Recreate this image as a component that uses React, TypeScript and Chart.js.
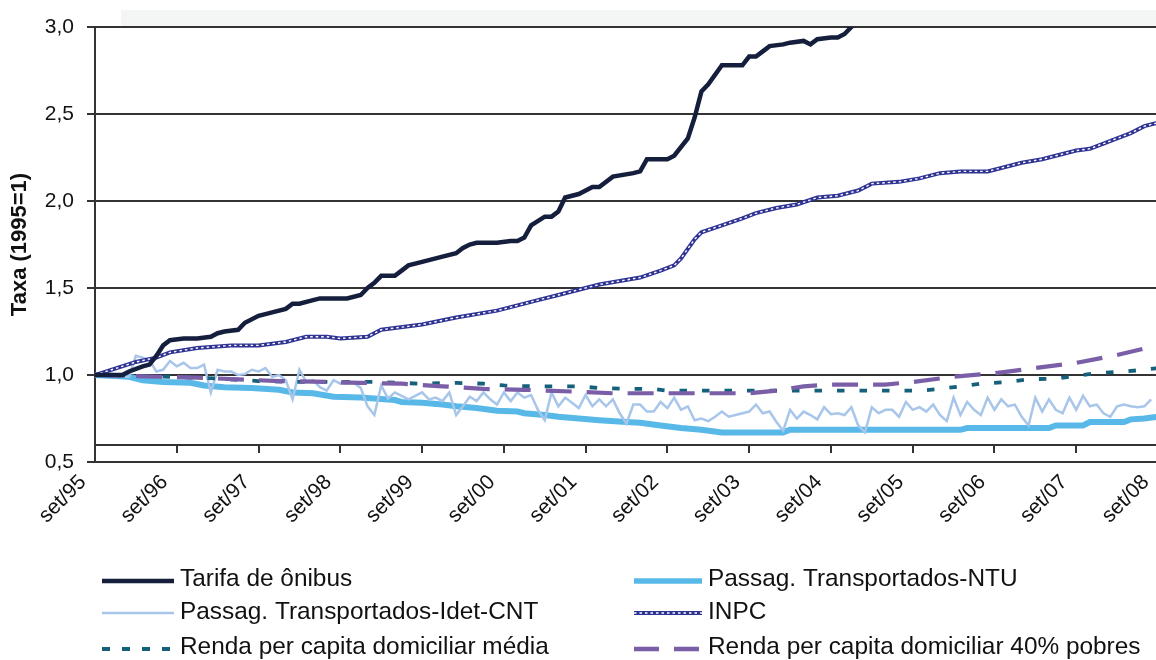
import React, { useEffect, useRef } from 'react';
import { Chart, registerables } from 'chart.js';

Chart.register(...registerables);

// Month index 0 = set/95, 12 = set/96, ... 156 = set/08
const xTickMonths = [0, 12, 24, 36, 48, 60, 72, 84, 96, 108, 120, 132, 144, 156];
const xTickLabels = ['set/95', 'set/96', 'set/97', 'set/98', 'set/99', 'set/00', 'set/01', 'set/02', 'set/03', 'set/04', 'set/05', 'set/06', 'set/07', 'set/08'];
const yTicks = [0.5, 1.0, 1.5, 2.0, 2.5, 3.0];

const tarifaMonths = [0, 4, 5, 7, 8, 9, 10, 11, 13, 15, 17, 18, 19, 21, 22, 24, 25, 26, 28, 29, 30, 32, 33, 37, 39, 40, 41, 42, 44, 45, 46, 48, 51, 53, 54, 55, 56, 59, 61, 62, 63, 64, 66, 67, 68, 69, 71, 73, 74, 76, 79, 80, 81, 84, 85, 87, 88, 89, 90, 92, 95, 96, 97, 98, 99, 101, 102, 104, 105, 106, 108, 109, 110, 111, 112];
const tarifaValues = [1.0, 1.0, 1.02, 1.05, 1.06, 1.11, 1.17, 1.2, 1.21, 1.21, 1.22, 1.24, 1.25, 1.26, 1.3, 1.34, 1.35, 1.36, 1.38, 1.41, 1.41, 1.43, 1.44, 1.44, 1.46, 1.5, 1.53, 1.57, 1.57, 1.6, 1.63, 1.65, 1.68, 1.7, 1.73, 1.75, 1.76, 1.76, 1.77, 1.77, 1.79, 1.86, 1.91, 1.91, 1.94, 2.02, 2.04, 2.08, 2.08, 2.14, 2.16, 2.17, 2.24, 2.24, 2.26, 2.36, 2.48, 2.63, 2.67, 2.78, 2.78, 2.83, 2.83, 2.86, 2.89, 2.9, 2.91, 2.92, 2.9, 2.93, 2.94, 2.94, 2.96, 3.0, 3.03];

const ntuMonths = [0, 5, 7, 10, 14, 16, 19, 23, 27, 29, 32, 35, 39, 44, 45, 48, 51, 53, 56, 59, 62, 63, 66, 68, 71, 74, 78, 80, 83, 86, 89, 92, 101, 102, 127, 128, 140, 141, 145, 146, 151, 152, 154, 156];
const ntuValues = [1.0, 0.99, 0.97, 0.96, 0.955, 0.94, 0.93, 0.925, 0.915, 0.9, 0.895, 0.875, 0.87, 0.856, 0.845, 0.84, 0.83, 0.82, 0.81, 0.795, 0.79, 0.78, 0.77, 0.76, 0.75, 0.74, 0.73, 0.725, 0.71, 0.695, 0.685, 0.67, 0.67, 0.685, 0.685, 0.695, 0.695, 0.71, 0.71, 0.73, 0.73, 0.745, 0.75, 0.76];

// monthly, index 0..155
const idetValues = [
  1.0, 1.0, 1.0, 0.99, 0.99, 0.99, 1.11, 1.1, 1.085, 1.02,
  1.03, 1.08, 1.05, 1.07, 1.04, 1.04, 1.06, 0.9, 1.03, 1.02,
  1.02, 1.0, 1.005, 1.03, 1.02, 1.04, 0.99, 1.0, 0.97, 0.86,
  1.03, 0.96, 0.97, 0.93, 0.91, 0.97, 0.95, 0.95, 0.955, 0.925,
  0.82, 0.77, 0.94, 0.865, 0.9, 0.88, 0.86, 0.88, 0.9, 0.86,
  0.87, 0.85, 0.9, 0.77, 0.82, 0.875, 0.85, 0.9, 0.86, 0.83,
  0.9, 0.85, 0.9, 0.87, 0.885, 0.8, 0.74, 0.9, 0.82, 0.87,
  0.84, 0.81, 0.885, 0.82, 0.86, 0.82, 0.86, 0.78, 0.72, 0.83,
  0.83, 0.79, 0.79, 0.845, 0.81, 0.87, 0.8, 0.82, 0.74, 0.75,
  0.735, 0.76, 0.79, 0.76, 0.77, 0.78, 0.79, 0.83, 0.78, 0.79,
  0.73, 0.68, 0.8, 0.75, 0.79, 0.77, 0.745, 0.815, 0.775, 0.78,
  0.77, 0.815, 0.71, 0.67, 0.815, 0.78, 0.8, 0.8, 0.76, 0.845,
  0.8, 0.815, 0.79, 0.83, 0.77, 0.735, 0.87, 0.77, 0.845, 0.8,
  0.77, 0.87, 0.8, 0.86, 0.82, 0.83, 0.76, 0.71, 0.87, 0.79,
  0.86, 0.8, 0.78, 0.87, 0.8, 0.88, 0.82, 0.83, 0.78, 0.76,
  0.82, 0.83, 0.82, 0.815, 0.82, 0.86
];

const inpcMonths = [0, 6, 9, 11, 15, 20, 24, 28, 31, 34, 36, 40, 42, 48, 53, 59, 65, 68, 71, 74, 77, 80, 83, 85, 86, 88, 89, 92, 95, 97, 100, 103, 106, 109, 112, 114, 118, 121, 124, 127, 131, 133, 135, 136, 139, 141, 144, 146, 148, 150, 152, 154, 156];
const inpcValues = [1.0, 1.075, 1.1, 1.13, 1.155, 1.17, 1.17, 1.19, 1.22, 1.22, 1.21, 1.22, 1.26, 1.29, 1.33, 1.37, 1.43, 1.46, 1.49, 1.52, 1.54, 1.56, 1.6, 1.63, 1.67, 1.78, 1.82, 1.86, 1.9, 1.93, 1.96, 1.98, 2.02, 2.03, 2.06, 2.1, 2.11, 2.13, 2.16, 2.17, 2.17, 2.19, 2.21, 2.22, 2.24, 2.26, 2.29, 2.3, 2.33, 2.36, 2.39, 2.43, 2.45];

const rendaMediaMonths = [0, 11, 18, 24, 31, 41, 48, 53, 57, 60, 64, 71, 74, 78, 82, 84, 121, 124, 127, 130, 134, 137, 141, 144, 147, 151, 154, 156];
const rendaMediaValues = [1.0, 0.99, 0.98, 0.965, 0.96, 0.96, 0.95, 0.955, 0.95, 0.94, 0.935, 0.935, 0.925, 0.92, 0.92, 0.91, 0.91, 0.92, 0.935, 0.95, 0.96, 0.975, 0.98, 0.995, 1.01, 1.02, 1.03, 1.04];

const renda40Months = [0, 9, 15, 21, 27, 34, 39, 45, 51, 57, 63, 70, 76, 96, 100, 104, 108, 112, 116, 120, 126, 132, 138, 144, 150, 156];
const renda40Values = [1.0, 0.99, 0.985, 0.975, 0.965, 0.96, 0.955, 0.95, 0.935, 0.92, 0.915, 0.905, 0.895, 0.895, 0.91, 0.935, 0.945, 0.945, 0.945, 0.96, 0.99, 1.01, 1.04, 1.07, 1.115, 1.17];

const FONT = '"Liberation Sans", Arial, "DejaVu Sans", sans-serif';

const C_TARIFA = '#151f3d';
const C_NTU = '#58b8e8';
const C_IDET = '#a8c5ea';
const C_INPC = '#2f3393';
const C_RMED = '#15607b';
const C_R40 = '#7a5ea8';

const DASH_RMED = [7.5, 15];
const DASH_R40 = [26, 15];

function pts(months: number[], values: number[]) {
  return months.map((m, i) => ({ x: m, y: values[i] }));
}

const legendItems = [
  { label: 'Tarifa de ônibus', color: C_TARIFA, width: 4.5, dash: [] as number[], col: 0, row: 0 },
  { label: 'Passag. Transportados-NTU', color: C_NTU, width: 5.5, dash: [] as number[], col: 1, row: 0 },
  { label: 'Passag. Transportados-Idet-CNT', color: C_IDET, width: 2.5, dash: [] as number[], col: 0, row: 1 },
  { label: 'INPC', color: C_INPC, width: 4, dash: [] as number[], col: 1, row: 1, dotted: true },
  { label: 'Renda per capita domiciliar média', color: C_RMED, width: 4, dash: [8, 12], col: 0, row: 2 },
  { label: 'Renda per capita domiciliar 40% pobres', color: C_R40, width: 4.5, dash: [25, 15], col: 1, row: 2 },
];

export default function App() {
  const canvasRef = useRef<HTMLCanvasElement | null>(null);

  useEffect(() => {
    const canvas = canvasRef.current;
    if (!canvas) return;

    const INPC_INDEX = 3;

    const bandPlugin = {
      id: 'band',
      beforeDraw(chart: any) {
        const { ctx, chartArea } = chart;
        ctx.save();
        ctx.fillStyle = '#f4f5f5';
        ctx.fillRect(chartArea.left + 26, chartArea.top - 17, chartArea.right - chartArea.left - 26, 17);
        ctx.restore();
      },
      beforeDatasetsDraw(chart: any) {
        const { ctx, chartArea, scales } = chart;
        const y06 = Math.round(scales.y.getPixelForValue(0.6));
        ctx.save();
        ctx.strokeStyle = '#333333';
        ctx.lineWidth = 2;
        ctx.beginPath();
        ctx.moveTo(chartArea.left, y06);
        ctx.lineTo(chartArea.right, y06);
        xTickMonths.forEach((m) => {
          if (m === 0) return;
          const x = Math.round(scales.x.getPixelForValue(m));
          ctx.moveTo(x, y06);
          ctx.lineTo(x, y06 + 8);
        });
        ctx.stroke();
        ctx.restore();
      },
      afterDatasetDraw(chart: any, args: any) {
        if (args.index !== INPC_INDEX) return;
        const { ctx, chartArea } = chart;
        const pts = args.meta.data;
        ctx.save();
        ctx.beginPath();
        ctx.rect(chartArea.left, chartArea.top, chartArea.right - chartArea.left, chartArea.bottom - chartArea.top);
        ctx.clip();
        ctx.beginPath();
        pts.forEach((p: any, i: number) => {
          if (i === 0) ctx.moveTo(p.x, p.y);
          else ctx.lineTo(p.x, p.y);
        });
        ctx.strokeStyle = '#ffffff';
        ctx.lineWidth = 1.4;
        ctx.setLineDash([2.5, 3]);
        ctx.stroke();
        ctx.restore();
      },
      afterDraw(chart: any) {
        const { ctx } = chart;
        const cols = [
          { x0: 102, x1: 174, tx: 180 },
          { x0: 634, x1: 702, tx: 708 },
        ];
        const lineY = [581, 613, 649];
        const textY = [586, 619, 654];
        ctx.save();
        legendItems.forEach((it: any) => {
          const c = cols[it.col];
          const ly = lineY[it.row];
          ctx.beginPath();
          ctx.setLineDash(it.dash);
          ctx.strokeStyle = it.color;
          ctx.lineWidth = it.width;
          ctx.lineCap = 'butt';
          ctx.moveTo(c.x0, ly);
          ctx.lineTo(c.x1, ly);
          ctx.stroke();
          if (it.dotted) {
            ctx.beginPath();
            ctx.setLineDash([2.5, 3]);
            ctx.strokeStyle = '#ffffff';
            ctx.lineWidth = 1.4;
            ctx.moveTo(c.x0, ly);
            ctx.lineTo(c.x1, ly);
            ctx.stroke();
          }
          ctx.setLineDash([]);
          ctx.fillStyle = '#111111';
          ctx.font = '24.4px ' + FONT;
          ctx.textAlign = 'left';
          ctx.textBaseline = 'alphabetic';
          ctx.fillText(it.label, c.tx, textY[it.row]);
        });
        ctx.restore();
      },
    };

    const chart = new Chart(canvas, {
      type: 'line',
      data: {
        datasets: [
          {
            label: 'Tarifa de ônibus',
            data: pts(tarifaMonths, tarifaValues),
            borderColor: C_TARIFA,
            borderWidth: 4.5,
            pointRadius: 0,
            tension: 0,
            order: 0,
          },
          {
            label: 'Passag. Transportados-NTU',
            data: pts(ntuMonths, ntuValues),
            borderColor: C_NTU,
            borderWidth: 6,
            pointRadius: 0,
            tension: 0,
            order: 5,
          },
          {
            label: 'Passag. Transportados-Idet-CNT',
            data: idetValues.map((v, i) => ({ x: i, y: v })),
            borderColor: C_IDET,
            borderWidth: 2.5,
            pointRadius: 0,
            tension: 0,
            order: 4,
          },
          {
            label: 'INPC',
            data: pts(inpcMonths, inpcValues),
            borderColor: C_INPC,
            borderWidth: 4,
            pointRadius: 0,
            tension: 0,
            order: 3,
          },
          {
            label: 'Renda per capita domiciliar média',
            data: pts(rendaMediaMonths, rendaMediaValues),
            borderColor: C_RMED,
            borderWidth: 3.8,
            borderDash: DASH_RMED,
            borderCapStyle: 'butt',
            pointRadius: 0,
            tension: 0,
            order: 2,
          },
          {
            label: 'Renda per capita domiciliar 40% pobres',
            data: pts(renda40Months, renda40Values),
            borderColor: C_R40,
            borderWidth: 4.2,
            borderDash: DASH_R40,
            borderCapStyle: 'butt',
            pointRadius: 0,
            tension: 0,
            order: 1,
          },
        ],
      },
      options: {
        responsive: false,
        animation: false,
        events: [],
        layout: { padding: { top: 27, right: 4, left: 0, bottom: 0 } },
        plugins: {
          legend: { display: false },
          tooltip: { enabled: false },
        },
        scales: {
          x: {
            type: 'linear',
            min: 0,
            max: 156,
            afterBuildTicks: (scale: any) => {
              scale.ticks = xTickMonths.map((v) => ({ value: v }));
            },
            afterFit: (scale: any) => {
              scale.height = 198;
              scale.paddingLeft = 0;
              scale.paddingRight = 0;
            },
            grid: { display: false, drawTicks: false },
            border: { display: false },
            ticks: {
              autoSkip: false,
              maxRotation: 45,
              minRotation: 45,
              padding: 8,
              labelOffset: -12,
              color: '#111111',
              font: { family: FONT, size: 21 },
              callback: (value: any) => {
                const i = xTickMonths.indexOf(Number(value));
                return i >= 0 ? xTickLabels[i] : '';
              },
            },
          },
          y: {
            type: 'linear',
            min: 0.5,
            max: 3.0,
            afterBuildTicks: (scale: any) => {
              scale.ticks = yTicks.map((v) => ({ value: v }));
            },
            afterFit: (scale: any) => {
              scale.width = 95;
              scale.paddingTop = 0;
              scale.paddingBottom = 0;
            },
            grid: {
              color: '#333333',
              lineWidth: 2,
              tickLength: 8,
              drawTicks: true,
            },
            border: { display: true, color: '#333333', width: 2 },
            title: {
              display: true,
              text: 'Taxa (1995=1)',
              color: '#111111',
              font: { family: FONT, size: 22, weight: 'bold' },
              padding: { top: 7, bottom: 0 },
            },
            ticks: {
              padding: 13,
              color: '#111111',
              font: { family: FONT, size: 21 },
              callback: (value: any) => Number(value).toFixed(1).replace('.', ','),
            },
          },
        },
      },
      plugins: [bandPlugin],
    } as any);

    return () => {
      chart.destroy();
    };
  }, []);

  return (
    <div style={{ position: 'fixed', left: 0, top: 0, width: 1156, height: 660, overflow: 'hidden', background: '#ffffff' }}>
      <canvas ref={canvasRef} width={1162} height={660} style={{ display: 'block' }} />
    </div>
  );
}
